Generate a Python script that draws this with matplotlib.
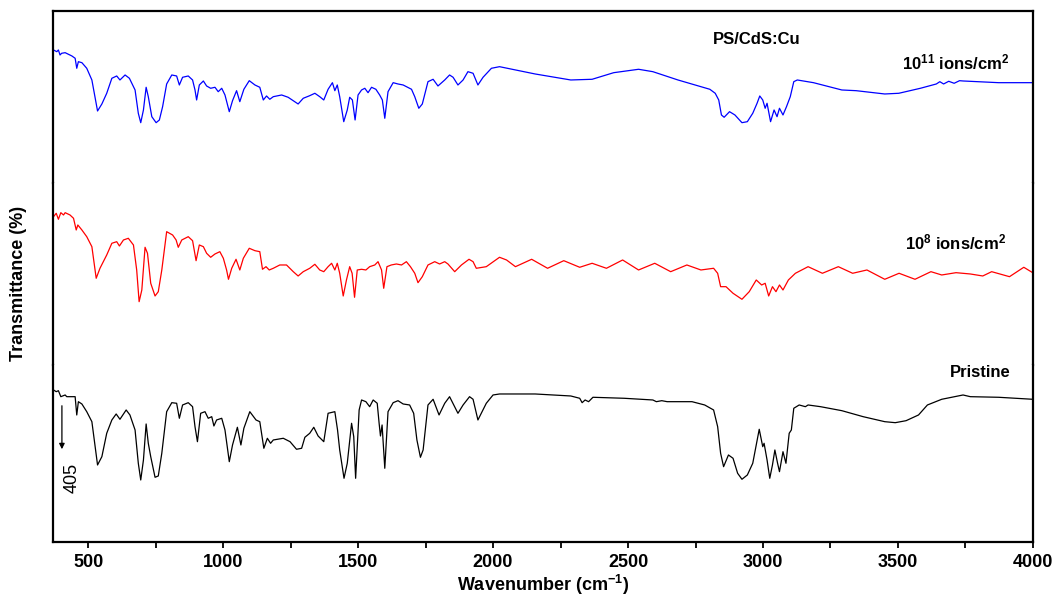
import matplotlib
matplotlib.use("Agg")
import matplotlib.pyplot as plt
from matplotlib.ticker import MultipleLocator

plt.rcParams['font.family'] = ['Liberation Sans', 'DejaVu Sans']
plt.rcParams['mathtext.fontset'] = 'custom'
plt.rcParams['mathtext.bf'] = 'Liberation Sans:bold'
plt.rcParams['mathtext.rm'] = 'Liberation Sans'
plt.rcParams['mathtext.default'] = 'bf'

# ---- data (arbitrary transmittance units per panel) ----
wn_blue = [372, 384, 390, 396, 402, 415, 440, 452, 458, 464, 477, 495, 514, 535, 551, 569, 588, 606,
           618, 637, 653, 674, 686, 695, 705, 715, 723, 736, 752, 764, 776, 791, 810, 828, 838, 850,
           871, 887, 896, 902, 912, 927, 939, 954, 970, 982, 995, 1007, 1023, 1035, 1050, 1062, 1077,
           1097, 1118, 1136, 1149, 1161, 1173, 1186, 1217, 1241, 1260, 1278, 1297, 1321, 1340, 1358,
           1373, 1389, 1405, 1414, 1423, 1432, 1447, 1460, 1469, 1479, 1489, 1500, 1513, 1525, 1537,
           1550, 1566, 1580, 1590, 1599, 1611, 1630, 1648, 1667, 1679, 1698, 1710, 1725, 1738, 1759,
           1778, 1796, 1821, 1839, 1852, 1870, 1889, 1907, 1926, 1944, 1963, 1994,
           2024, 2156, 2288, 2367, 2447, 2539, 2592, 2685, 2803, 2823, 2836, 2846, 2856, 2876, 2896,
           2922, 2942, 2962, 2978, 2988, 2999, 3008, 3015, 3028, 3041, 3052, 3061, 3074, 3087, 3101,
           3114, 3127, 3187, 3292, 3345, 3451, 3503, 3583, 3642, 3655, 3669, 3688, 3708, 3728, 3741,
           3873, 3999]
t_blue = [133, 131.3, 133, 128, 129.7, 130.3, 127, 124.7, 114.7, 121.3, 120.3, 114.7, 103, 72, 79,
          89.7, 104.7, 107, 103, 108, 104.7, 93, 69.7, 60.3, 73, 95.7, 86.3, 66.3, 60.3, 63, 76.3, 99,
          108, 107, 98, 105.7, 107, 103, 93, 83, 98, 102, 97, 94.7, 95.7, 91.3, 94.7, 88, 71.3, 82.3,
          92.3, 81.3, 93.7, 102.3, 98, 95.7, 83, 87, 83.7, 86.3, 88, 85.7, 82.3, 79, 84.7, 87.3, 89.7,
          86.3, 83, 93.7, 100.3, 92.3, 98, 86.3, 61.3, 73, 85.7, 83, 63, 88, 93, 94.7, 90.3, 95.7,
          93.7, 88, 83, 64.7, 91.3, 100.3, 99, 98, 96.3, 93.7, 86.3, 74.7, 79, 101.3, 103.7, 97, 103,
          108, 105.7, 98, 103, 111.3, 109.7, 98, 105.7, 114.7,
          116.3, 109, 103, 103.7, 110.3, 113.7, 111.3, 103, 93.7, 89.7, 83, 68, 65.7, 71.3, 68, 60.3,
          61.3, 69.7, 79.7, 87, 83, 74.7, 79.7, 61.3, 73, 66.3, 74.7, 68, 76.3, 86.3, 101.3, 103,
          100.3, 93, 92.3, 89, 89.7, 94.7, 99, 101.3, 99, 101.7, 99.7, 102.3, 102, 100.3, 100.3]

wn_red = [372, 382, 390, 399, 409, 415, 433, 446, 456, 462, 477, 495, 514, 530, 544, 569, 588, 606,
          616, 631, 649, 668, 680, 689, 699, 711, 720, 732, 748, 760, 773, 791, 813, 826, 834, 847,
          871, 887, 900, 912, 927, 939, 954, 970, 988, 1001, 1013, 1020, 1032, 1048, 1062, 1075, 1097,
          1118, 1136, 1146, 1159, 1171, 1186, 1210, 1235, 1260, 1278, 1297, 1321, 1340, 1358, 1373,
          1389, 1402, 1414, 1423, 1432, 1445, 1457, 1469, 1478, 1487, 1497, 1513, 1529, 1543, 1562,
          1574, 1587, 1595, 1607, 1623, 1642, 1661, 1679, 1694, 1710, 1722, 1738, 1759, 1784, 1802,
          1821, 1833, 1858, 1883, 1911, 1926, 1938, 1975,
          2024, 2050, 2083, 2143, 2202, 2262, 2321, 2367, 2420, 2480, 2539, 2599, 2658, 2718, 2770,
          2817, 2832, 2843, 2863, 2889, 2922, 2949, 2975, 2995, 3008, 3021, 3035, 3048, 3061, 3074,
          3094, 3120, 3167, 3220, 3279, 3332, 3385, 3451, 3504, 3563, 3622, 3662, 3715, 3768, 3814,
          3847, 3913, 3966, 3999]
t_red = [148.3, 151.7, 145.7, 152.3, 150, 152.3, 150, 146.7, 135, 140, 135, 128.3, 118.3, 86.7, 96.7,
         110, 121.7, 123.3, 119, 125, 126.7, 120, 95, 63.3, 75, 117.7, 111.7, 81.7, 69, 73.3, 95,
         133.3, 130, 125, 117.7, 125, 128.3, 124.3, 104.3, 120, 118.3, 111.7, 107.7, 111, 113.3,
         106.7, 95, 85.7, 96.7, 105.7, 95, 106.7, 116.7, 114.3, 113.3, 95.7, 98.3, 95, 96.7, 100,
         100, 93.3, 89, 93.3, 96.7, 100.7, 95, 93.3, 98.3, 101.7, 95, 101.7, 91.7, 69, 85, 98.3,
         91.7, 67.7, 95, 95.7, 95, 98.3, 100, 103.3, 95, 76.7, 98.3, 100, 101, 100, 103.3, 98.3,
         91.7, 82.3, 88.3, 100, 103.3, 101, 103.3, 101, 93.3, 100, 105.7, 103.3, 96.7, 98.3,
         107.7, 105, 98.3, 105.7, 96.7, 104.3, 97.7, 101.7, 96.7, 105, 95, 101.7, 93.3, 100, 95,
         96.7, 91.7, 78.3, 78.3, 71.7, 65.7, 73.3, 85, 80, 81.7, 69, 78.3, 73.3, 80, 75, 85, 91.7,
         98.3, 91.7, 98.3, 91.7, 95, 85.7, 91.7, 85.7, 93.3, 90, 92.3, 91, 89, 93.3, 88.3, 97.7, 92.3]

wn_black = [372, 382, 390, 399, 415, 421, 452, 458, 464, 477, 495, 514, 535, 551, 569, 588, 604, 618,
            641, 655, 674, 686, 695, 705, 715, 723, 732, 748, 760, 773, 791, 810, 828, 838, 850, 871,
            887, 896, 905, 917, 933, 945, 958, 966, 976, 995, 1007, 1023, 1035, 1053, 1066, 1077, 1099,
            1122, 1136, 1151, 1164, 1176, 1186, 1223, 1248, 1272, 1291, 1303, 1321, 1336, 1352, 1373,
            1389, 1414, 1424, 1432, 1448, 1460, 1476, 1484, 1491, 1504, 1513, 1529, 1543, 1556, 1571,
            1578, 1583, 1589, 1599, 1611, 1630, 1648, 1667, 1691, 1706, 1718, 1731, 1741, 1759, 1778,
            1800, 1821, 1839, 1870, 1889, 1913, 1926, 1944, 1975, 2000,
            2024, 2156, 2288, 2321, 2330, 2341, 2354, 2370, 2486, 2592, 2605, 2625, 2645, 2737, 2784,
            2817, 2832, 2843, 2854, 2872, 2889, 2906, 2922, 2942, 2962, 2986, 2999, 3004, 3015, 3025,
            3035, 3044, 3054, 3061, 3074, 3085, 3097, 3105, 3114, 3134, 3157, 3167, 3213, 3292, 3371,
            3451, 3490, 3530, 3576, 3609, 3662, 3741, 3768, 3873, 3999]
t_black = [152, 150.3, 151.3, 145.3, 147, 145.3, 145.3, 127, 140.3, 138, 130.3, 120.3, 77, 85.3,
           108.7, 122, 128, 122.7, 132, 127, 112, 78.7, 62, 82, 118, 98.7, 85.3, 64.7, 66, 88.7,
           130.3, 139.3, 138.7, 123.7, 137, 139.3, 135.3, 115.3, 100.3, 128.7, 130.3, 123.7, 125.3,
           116, 122, 123.7, 112, 80.3, 97, 114.7, 97, 113.7, 130.3, 122, 120.3, 93.7, 103.7, 98.7,
           102, 103.7, 100.3, 92.7, 93.7, 104.7, 108.7, 114.7, 106, 100.3, 128.7, 130.3, 112, 92,
           63.7, 78.7, 118.7, 105.3, 63.7, 132, 142, 140.3, 135.3, 142, 138.7, 118.7, 106, 117,
           73.7, 130.3, 139.3, 141.3, 138, 137, 128.7, 102, 84.7, 92, 137, 142.7, 127, 138.7, 145.3,
           128.7, 137, 145.3, 142.7, 122, 138.7, 147,
           148, 148, 146, 143.7, 139.3, 142, 140.3, 144.7, 143.7, 142, 140.3, 141.3, 140.3, 140.3,
           137, 132, 115.3, 88.7, 75.3, 87, 83.7, 68.7, 62.7, 67, 78.7, 112.7, 95.3, 98.7, 82, 63.7,
           77, 92, 78.7, 70.3, 90.3, 78.7, 108.7, 112, 133.7, 137, 135.3, 137, 135.3, 131.3, 125.3,
           120.3, 119.3, 121.3, 127, 137, 142.7, 147, 145.3, 144.7, 142.7]

panel_heights = [172, 182, 177]
series = [(wn_blue, t_blue, 'blue'), (wn_red, t_red, 'red'), (wn_black, t_black, 'black')]

fig = plt.figure(figsize=(10.6, 6), dpi=100)
gs = fig.add_gridspec(3, 1, height_ratios=panel_heights, left=0.05, right=0.9745,
                      top=0.9817, bottom=0.0967, hspace=0)
axes = []
for i in range(3):
    ax = fig.add_subplot(gs[i], sharex=axes[0] if axes else None)
    axes.append(ax)
    wn, t, c = series[i]
    ax.plot(wn, t, color=c, lw=0.9)
    ax.set_ylim(0, panel_heights[i])
    ax.set_yticks([])
    for s in ax.spines.values():
        s.set_linewidth(1.6)
    if i != 0:
        ax.spines['top'].set_visible(False)
    if i != 2:
        ax.spines['bottom'].set_visible(False)
        ax.tick_params(axis='x', which='both', bottom=False, labelbottom=False)

ax1, ax2, ax3 = axes
ax3.set_xlim(370, 4000)
ax3.xaxis.set_major_locator(MultipleLocator(500))
ax3.xaxis.set_minor_locator(MultipleLocator(250))
ax3.tick_params(axis='x', which='both', direction='out', length=4, width=1.3, pad=5)
for lab in ax3.get_xticklabels():
    lab.set_fontweight('bold')
    lab.set_fontsize(13)

ax1.text(2975, 143, 'PS/CdS:Cu', ha='center', va='center', fontsize=12, fontweight='bold')
ax1.text(3715, 121, '10$^{11}$ ions/cm$^{2}$', ha='center', va='center', fontsize=12,
         fontweight='bold')
ax2.text(3715, 123, '10$^{8}$ ions/cm$^{2}$', ha='center', va='center', fontsize=12,
         fontweight='bold')
ax3.text(3805, 169, 'Pristine', ha='center', va='center', fontsize=12, fontweight='bold')

# 405 marker
ax3.annotate('', xy=(403, 90), xytext=(403, 139),
             arrowprops=dict(arrowstyle='-|>', color='black', lw=0.9, mutation_scale=8))
ax3.text(440, 64, '405', rotation=90, ha='center', va='center', fontsize=13)

fig.text(0.017, 1 - 283 / 600, 'Transmittance (%)', rotation=90, ha='center', va='center',
         fontsize=13, fontweight='bold')
fig.text(543 / 1060, 1 - 585 / 600, 'Wavenumber (cm$^{-1}$)', ha='center', va='center',
         fontsize=13, fontweight='bold')

fig.savefig('out.png', dpi=100)
